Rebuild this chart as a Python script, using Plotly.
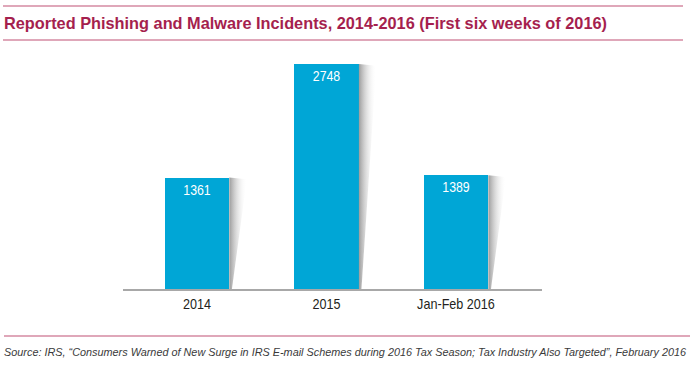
import plotly.graph_objects as go

categories = ["2014", "2015", "Jan-Feb 2016"]
incidents = [1361, 2748, 1389]
value_labels = ["1361", "2748", "1389"]

title_text = "Reported Phishing and Malware Incidents, 2014-2016 (First six weeks of 2016)"
source_text = ("Source: IRS, \u201cConsumers Warned of New Surge in IRS E-mail Schemes during 2016 Tax Season; "
               "Tax Industry Also Targeted\u201d, February 2016")

W, H = 692, 370
L, R, T, B = 123, 150, 45, 81
PW, PH = W - L - R, H - T - B

def pxx(px):
    return (px - L) / PW

def pxy(py):
    return (H - B - py) / PH

FONT = "Liberation Sans, Arial, Helvetica, sans-serif"
BAR_W = 0.5
xs = list(range(len(categories)))

fig = go.Figure()

# soft shadows to the right of each bar
for i, v in zip(xs, incidents):
    x0 = i + BAR_W / 2
    fig.add_trace(go.Scatter(
        x=[x0, x0 + 0.135, x0 + 0.02, x0, x0],
        y=[v, v - 20, 0, 0, v],
        mode="lines", line=dict(width=0), fill="toself",
        fillgradient=dict(type="horizontal",
                          colorscale=[[0, "rgba(145,145,145,0.9)"], [1, "rgba(255,255,255,0)"]]),
        hoverinfo="skip", showlegend=False,
    ))

fig.add_trace(go.Bar(
    x=xs, y=incidents, width=BAR_W,
    marker=dict(color="#00a6d6", line=dict(width=0)),
    text=value_labels, textposition="inside", insidetextanchor="end",
    textfont=dict(color="white", size=15, family=FONT),
    showlegend=False, hoverinfo="skip",
))

line_color = "#d48aa2"
shapes = [
    dict(type="line", xref="paper", yref="paper", x0=pxx(3), x1=pxx(683), y0=pxy(6), y1=pxy(6),
         line=dict(color=line_color, width=1.5)),
    dict(type="line", xref="paper", yref="paper", x0=pxx(3), x1=pxx(683), y0=pxy(40), y1=pxy(40),
         line=dict(color=line_color, width=1.5)),
    dict(type="line", xref="paper", yref="paper", x0=pxx(4), x1=pxx(690), y0=pxy(336), y1=pxy(336),
         line=dict(color=line_color, width=1.5)),
]

fig.update_layout(
    width=W, height=H,
    margin=dict(l=L, r=R, t=T, b=B),
    paper_bgcolor="white", plot_bgcolor="white",
    title=dict(text=title_text, xref="container", yref="container",
               x=305.5 / W, xanchor="center", y=1 - 23 / H, yanchor="middle",
               font=dict(family=FONT, size=17, color="#a51f4e", weight="bold")),
    xaxis=dict(range=[-0.571, 2.664], tickmode="array", tickvals=xs, ticktext=categories,
               showgrid=False, zeroline=False, showline=True, linecolor="#a8a8a8", linewidth=1.5,
               ticks="", tickfont=dict(family=FONT, size=15, color="#231f20"), fixedrange=True),
    yaxis=dict(range=[0, 2980], visible=False, showgrid=False, zeroline=False, fixedrange=True),
    shapes=shapes,
    annotations=[dict(text=source_text, xref="paper", yref="paper",
                      x=pxx(345), y=pxy(352), xanchor="center", yanchor="middle", showarrow=False,
                      font=dict(family=FONT, size=10.5, color="#3a3a3a", style="italic"))],
    bargap=0,
)

js = """
document.body.style.margin = '0px';
function condense(sel, factor, target) {
  document.querySelectorAll(sel).forEach(function (t) {
    var w = t.getAttribute('data-w0');
    if (!w) { w = t.getComputedTextLength(); t.setAttribute('data-w0', w); }
    w = parseFloat(w);
    var nw = target ? target : w * factor;
    t.setAttribute('textLength', nw);
    t.setAttribute('lengthAdjust', 'spacingAndGlyphs');
  });
}
function applyAll() {
  condense('text.gtitle', null, 603);
  condense('text.annotation-text', null, 682);
  condense('g.xtick text', 0.84, null);
  condense('text.bartext', 0.82, null);
}
applyAll();
setTimeout(applyAll, 30);
setTimeout(applyAll, 300);
"""

fig.write_html("out.html", post_script=js, config={"displayModeBar": False, "staticPlot": True})
